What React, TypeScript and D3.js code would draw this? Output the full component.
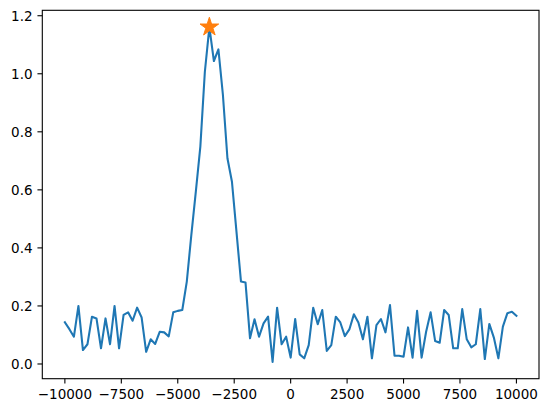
import React from "react";
import * as d3 from "d3";

const xStart = -10000;
const xStep = 200;
const yValues: number[] = [
  0.144, 0.12, 0.094, 0.2, 0.048, 0.068, 0.163, 0.157, 0.054, 0.157,
  0.068, 0.2, 0.054, 0.169, 0.178, 0.149, 0.194, 0.16, 0.042, 0.085,
  0.069, 0.111, 0.109, 0.095, 0.178, 0.183, 0.186, 0.284, 0.444, 0.594,
  0.749, 1.007, 1.161, 1.044, 1.084, 0.927, 0.709, 0.628, 0.456, 0.284,
  0.281, 0.0885, 0.154, 0.094, 0.14, 0.163, 0.007, 0.194, 0.068, 0.094,
  0.022, 0.155, 0.033, 0.0195, 0.065, 0.194, 0.137, 0.186, 0.045, 0.065,
  0.163, 0.143, 0.096, 0.119, 0.171, 0.143, 0.085, 0.163, 0.0195, 0.134,
  0.155, 0.109, 0.203, 0.0286, 0.0286, 0.025, 0.126, 0.022, 0.183, 0.022,
  0.111, 0.178, 0.079, 0.073, 0.186, 0.169, 0.054, 0.054, 0.189, 0.085,
  0.0574, 0.068, 0.189, 0.017, 0.138, 0.091, 0.0195, 0.129, 0.175, 0.18,
  0.166,
];
const xValues: number[] = yValues.map((_, i) => xStart + i * xStep);

const xTicks = [-10000, -7500, -5000, -2500, 0, 2500, 5000, 7500, 10000];
const yTicks = [0.0, 0.2, 0.4, 0.6, 0.8, 1.0, 1.2];

const W = 547;
const H = 413;
const left = 42.3;
const right = 539;
const top = 10.3;
const bottom = 378.7;

const fmtX = (v: number) => (v < 0 ? "\u2212" + Math.abs(v) : String(v));
const fmtY = (v: number) => v.toFixed(1);

function pad(ext: [number, number]): [number, number] {
  const m = (ext[1] - ext[0]) * 0.05;
  return [ext[0] - m, ext[1] + m];
}

function starPath(r: number) {
  const inner = r * 0.381966;
  const pts: string[] = [];
  for (let k = 0; k < 10; k++) {
    const rr = k % 2 === 0 ? r : inner;
    const a = (Math.PI / 5) * k;
    pts.push(`${(rr * Math.sin(a)).toFixed(3)},${(-rr * Math.cos(a)).toFixed(3)}`);
  }
  return "M" + pts.join("L") + "Z";
}

export default function App() {
  const x = d3
    .scaleLinear()
    .domain(pad(d3.extent(xValues) as [number, number]))
    .range([left, right]);
  const y = d3
    .scaleLinear()
    .domain(pad(d3.extent(yValues) as [number, number]))
    .range([bottom, top]);

  const pts: [number, number][] = xValues.map((xv, i) => [xv, yValues[i]]);
  const line = d3
    .line<[number, number]>()
    .x((d) => x(d[0]))
    .y((d) => y(d[1]));

  const maxIdx = d3.maxIndex(yValues);
  const font = "'DejaVu Sans', sans-serif";
  const fs = 13.5;

  return (
    <svg
      width={W}
      height={H}
      style={{ position: "absolute", left: 0, top: 0, display: "block", background: "#fff" }}
    >
      <rect x={0} y={0} width={W} height={H} fill="#fff" />
      <path
        d={line(pts) || ""}
        fill="none"
        stroke="#1f77b4"
        strokeWidth={2.08}
        strokeLinejoin="round"
        strokeLinecap="square"
      />
      <path
        d={starPath(9.8)}
        transform={`translate(${x(xValues[maxIdx])},${y(yValues[maxIdx])})`}
        fill="#ff7f0e"
        stroke="#ff7f0e"
        strokeWidth={1}
        strokeLinejoin="miter"
      />
      <rect
        x={left}
        y={top}
        width={right - left}
        height={bottom - top}
        fill="none"
        stroke="#000"
        strokeWidth={1.1}
      />
      {xTicks.map((t) => (
        <g key={"x" + t}>
          <line x1={x(t)} x2={x(t)} y1={bottom} y2={bottom + 4.86} stroke="#000" strokeWidth={1.1} />
          <text
            x={x(t)}
            y={bottom + 20.6}
            textAnchor="middle"
            fontFamily={font}
            fontSize={fs}
            fill="#000"
          >
            {fmtX(t)}
          </text>
        </g>
      ))}
      {yTicks.map((t) => (
        <g key={"y" + t}>
          <line x1={left - 4.86} x2={left} y1={y(t)} y2={y(t)} stroke="#000" strokeWidth={1.1} />
          <text
            x={left - 9.7}
            y={y(t) + 5}
            textAnchor="end"
            fontFamily={font}
            fontSize={fs}
            fill="#000"
          >
            {fmtY(t)}
          </text>
        </g>
      ))}
    </svg>
  );
}
